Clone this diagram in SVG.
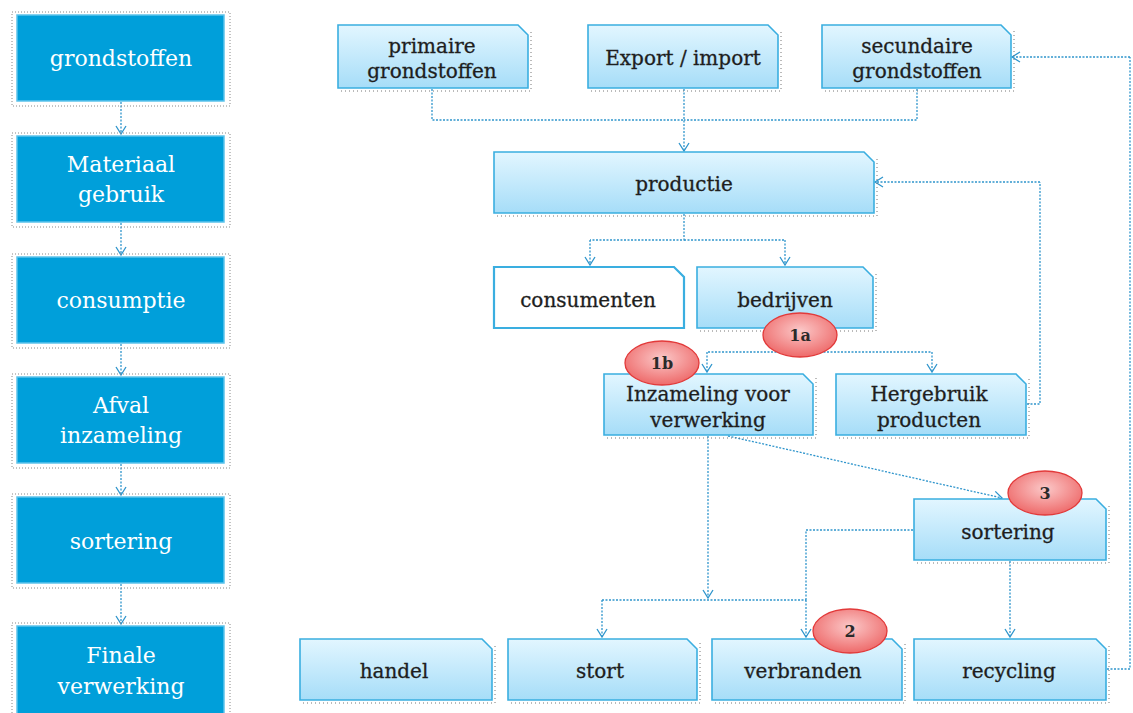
<svg xmlns="http://www.w3.org/2000/svg" width="1133" height="713" viewBox="0 0 1133 713">
<defs>
<linearGradient id="g" x1="0" y1="0" x2="0" y2="1">
<stop offset="0" stop-color="#E2F6FF"/>
<stop offset="1" stop-color="#A6DDF8"/>
</linearGradient>
<radialGradient id="r" cx="0.5" cy="0.4" r="0.6">
<stop offset="0" stop-color="#FBC8C8"/>
<stop offset="1" stop-color="#EE6A6A"/>
</radialGradient>
<marker id="a" markerWidth="12" markerHeight="12" refX="10" refY="6" orient="auto" markerUnits="userSpaceOnUse">
<path d="M2,1 L10,6 L2,11" fill="none" stroke="#2F95CC" stroke-width="1.3"/>
</marker>
</defs>
<style>
.lb{fill:#009FDA;stroke:#5CC3EC;stroke-width:1.5}
.ls{fill:none;stroke:#888;stroke-width:1;stroke-dasharray:1 2}
.lt{font-family:"DejaVu Serif","Liberation Serif",serif;font-size:22px;fill:#FFFFFF;text-anchor:middle}
.nb{fill:url(#g);stroke:#3AAEE0;stroke-width:1.6}
.wb{fill:#FFFFFF;stroke:#3AAEE0;stroke-width:2.2}
.sh{fill:none;stroke:#777;stroke-width:1;stroke-dasharray:1 3}
.nt{font-family:"DejaVu Serif","Liberation Serif",serif;font-size:20px;fill:#1E1E1E;stroke:#1E1E1E;stroke-width:0.3;text-anchor:middle}
.bd{fill:url(#r);stroke:#E23A3A;stroke-width:1.3}
.bt{font-family:"DejaVu Serif","Liberation Serif",serif;font-size:16px;font-weight:bold;fill:#2A2A2A;text-anchor:middle}
.c{fill:none;stroke:#2F95CC;stroke-width:1.3;stroke-dasharray:2 1.5}
.ca{fill:none;stroke:#2F95CC;stroke-width:1.3;stroke-dasharray:2 1.5;marker-end:url(#a)}
</style>

<g id="left-connectors">
<path class="ca" d="M121,102 V134"/>
<path class="ca" d="M121,223 V255"/>
<path class="ca" d="M121,344 V375"/>
<path class="ca" d="M121,464 V495"/>
<path class="ca" d="M121,584 V624"/>
</g>

<g id="l-grondstoffen">
<rect class="ls" x="12" y="12" width="218" height="94"/>
<rect class="lb" x="17" y="15" width="207" height="86"/>
<text class="lt" x="121" y="66">grondstoffen</text>
</g>
<g id="l-materiaal">
<rect class="ls" x="12" y="133" width="218" height="94"/>
<rect class="lb" x="17" y="136" width="207" height="86"/>
<text class="lt" x="121" y="172">Materiaal</text>
<text class="lt" x="121" y="202">gebruik</text>
</g>
<g id="l-consumptie">
<rect class="ls" x="12" y="254" width="218" height="94"/>
<rect class="lb" x="17" y="257" width="207" height="86"/>
<text class="lt" x="121" y="308">consumptie</text>
</g>
<g id="l-afval">
<rect class="ls" x="12" y="374" width="218" height="94"/>
<rect class="lb" x="17" y="377" width="207" height="86"/>
<text class="lt" x="121" y="413">Afval</text>
<text class="lt" x="121" y="443">inzameling</text>
</g>
<g id="l-sortering">
<rect class="ls" x="12" y="494" width="218" height="94"/>
<rect class="lb" x="17" y="497" width="207" height="86"/>
<text class="lt" x="121" y="549">sortering</text>
</g>
<g id="l-finale">
<rect class="ls" x="12" y="623" width="218" height="94"/>
<rect class="lb" x="17" y="626" width="207" height="90"/>
<text class="lt" x="121" y="663">Finale</text>
<text class="lt" x="121" y="694">verwerking</text>
</g>

<g id="connectors">
<path class="c" d="M432,89 V120 H684"/>
<path class="c" d="M917,89 V120 H684"/>
<path class="ca" d="M684,89 V151"/>
<path class="c" d="M684,214 V240 H590"/>
<path class="ca" d="M590,240 V265"/>
<path class="c" d="M684,240 H785"/>
<path class="ca" d="M785,240 V265"/>
<path class="c" d="M785,329 V352 H707"/>
<path class="ca" d="M707,352 V372"/>
<path class="c" d="M785,352 H932"/>
<path class="ca" d="M932,352 V372"/>
<path class="c" d="M1027,404 H1040 V182"/>
<path class="ca" d="M1040,182 H875"/>
<path class="c" d="M1107,669 H1130 V57"/>
<path class="ca" d="M1130,57 H1012"/>
<path class="ca" d="M708,436 V598"/>
<path class="c" d="M602,600 H806"/>
<path class="ca" d="M602,600 V637"/>
<path class="ca" d="M806,600 V637"/>
<path class="ca" d="M728,436 L1002,498"/>
<path class="c" d="M913,530 H806 V600"/>
<path class="ca" d="M1010,561 V637"/>
</g>

<g id="n-primaire">
<path class="sh" d="M341,91 H531 V30"/>
<path class="nb" d="M338,25 H518 L528,35 V88 H338 Z"/>
<text class="nt" x="432" y="53">primaire</text>
<text class="nt" x="432" y="78">grondstoffen</text>
</g>
<g id="n-export">
<path class="sh" d="M591,91 H781 V30"/>
<path class="nb" d="M588,25 H768 L778,35 V88 H588 Z"/>
<text class="nt" x="683" y="65">Export / import</text>
</g>
<g id="n-secundaire">
<path class="sh" d="M825,91 H1014 V30"/>
<path class="nb" d="M822,25 H1001 L1011,35 V88 H822 Z"/>
<text class="nt" x="917" y="53">secundaire</text>
<text class="nt" x="917" y="78">grondstoffen</text>
</g>
<g id="n-productie">
<path class="sh" d="M497,216 H877 V157"/>
<path class="nb" d="M494,152 H864 L874,162 V213 H494 Z"/>
<text class="nt" x="684" y="191">productie</text>
</g>
<g id="n-consumenten">
<path class="wb" d="M494,267 H674 L684,277 V328 H494 Z"/>
<text class="nt" x="588" y="307">consumenten</text>
</g>
<g id="n-bedrijven">
<path class="sh" d="M700,331 H876 V271"/>
<path class="nb" d="M697,267 H863 L873,277 V328 H697 Z"/>
<text class="nt" x="785" y="307">bedrijven</text>
</g>
<g id="n-inzameling">
<path class="sh" d="M607,438 H816 V378"/>
<path class="nb" d="M604,374 H803 L813,384 V435 H604 Z"/>
<text class="nt" x="708" y="401">Inzameling voor</text>
<text class="nt" x="708" y="427">verwerking</text>
</g>
<g id="n-hergebruik">
<path class="sh" d="M839,438 H1029 V378"/>
<path class="nb" d="M836,374 H1016 L1026,384 V435 H836 Z"/>
<text class="nt" x="929" y="401">Hergebruik</text>
<text class="nt" x="929" y="427">producten</text>
</g>
<g id="n-sortering">
<path class="sh" d="M917,563 H1109 V504"/>
<path class="nb" d="M914,499 H1096 L1106,509 V560 H914 Z"/>
<text class="nt" x="1008" y="539">sortering</text>
</g>
<g id="n-handel">
<path class="sh" d="M303,703 H495 V643"/>
<path class="nb" d="M300,639 H482 L492,649 V700 H300 Z"/>
<text class="nt" x="394" y="678">handel</text>
</g>
<g id="n-stort">
<path class="sh" d="M511,703 H700 V643"/>
<path class="nb" d="M508,639 H687 L697,649 V700 H508 Z"/>
<text class="nt" x="600" y="678">stort</text>
</g>
<g id="n-verbranden">
<path class="sh" d="M715,703 H905 V643"/>
<path class="nb" d="M712,639 H892 L902,649 V700 H712 Z"/>
<text class="nt" x="803" y="678">verbranden</text>
</g>
<g id="n-recycling">
<path class="sh" d="M917,703 H1109 V643"/>
<path class="nb" d="M914,639 H1096 L1106,649 V700 H914 Z"/>
<text class="nt" x="1009" y="678">recycling</text>
</g>

<g id="b-1a">
<ellipse class="bd" cx="800" cy="335" rx="37" ry="22"/>
<text class="bt" x="800" y="341">1a</text>
</g>
<g id="b-1b">
<ellipse class="bd" cx="662" cy="363" rx="37" ry="22"/>
<text class="bt" x="662" y="369">1b</text>
</g>
<g id="b-3">
<ellipse class="bd" cx="1045" cy="493" rx="37" ry="22"/>
<text class="bt" x="1045" y="499">3</text>
</g>
<g id="b-2">
<ellipse class="bd" cx="850" cy="631" rx="37" ry="22"/>
<text class="bt" x="850" y="637">2</text>
</g>
</svg>
